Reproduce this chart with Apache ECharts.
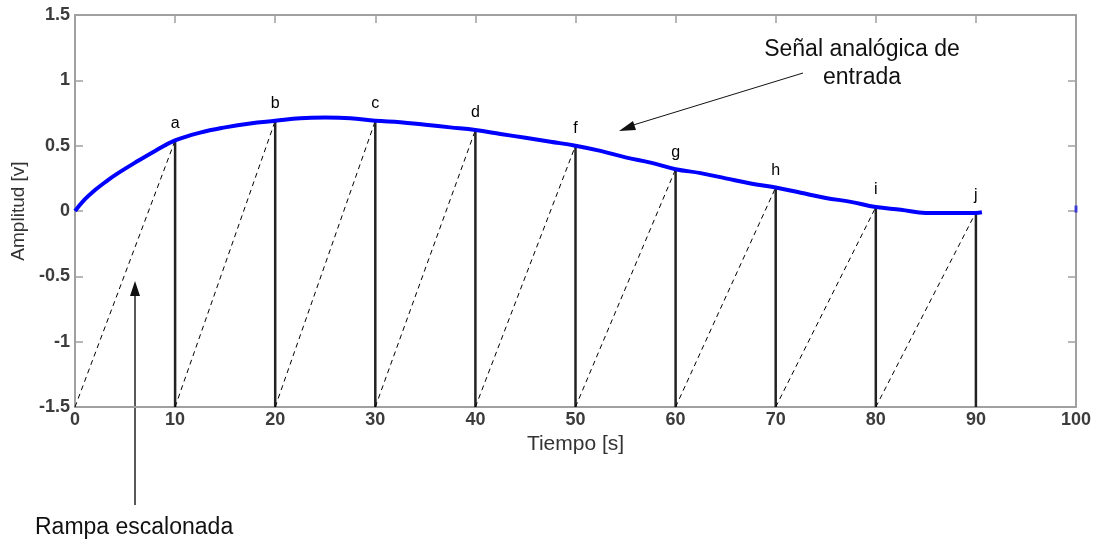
<!DOCTYPE html>
<html>
<head>
<meta charset="utf-8">
<script src="https://cdn.jsdelivr.net/npm/echarts@6/dist/echarts.min.js"></script>
<style>
html,body{margin:0;padding:0;background:#fff;}
#c{width:1100px;height:545px;}
</style>
</head>
<body>
<div id="c"></div>
<script>
// Analog input signal (time s, amplitude V)
var curveT = [0, 1, 2, 3, 4, 6, 8, 10, 12.5, 15, 17.5, 20, 22.5, 25, 27.5, 30, 32.5, 35, 37.5, 40, 42.5, 45, 47.5, 50, 52.5, 55, 57.5, 60, 62.5, 65, 67.5, 70, 72.5, 75, 77.5, 80, 82.5, 85, 87.5, 90, 90.6];
var curveV = [0, 0.09, 0.16, 0.22, 0.275, 0.37, 0.46, 0.54, 0.60, 0.64, 0.67, 0.69, 0.71, 0.715, 0.71, 0.69, 0.68, 0.66, 0.64, 0.62, 0.59, 0.56, 0.53, 0.50, 0.46, 0.41, 0.37, 0.32, 0.29, 0.25, 0.21, 0.18, 0.14, 0.10, 0.07, 0.03, 0.01, -0.015, -0.015, -0.015, -0.01];
// Sample instants and sampled values
var sampleT = [10, 20, 30, 40, 50, 60, 70, 80, 90];
var sampleV = [0.54, 0.69, 0.69, 0.62, 0.50, 0.32, 0.18, 0.03, -0.01];
var sampleLabels = ['a', 'b', 'c', 'd', 'f', 'g', 'h', 'i', 'j'];
var rampStep = 10;   // each ramp starts at previous sample instant
var rampBase = -1.5;
// stray point at right edge
var edgePoint = [[100, 0.015]];
// axis ticks
var xTicks = {min: 0, max: 100, interval: 10};
var yTicks = {min: -1.5, max: 1.5, interval: 0.5};

var curveData = curveT.map(function (t, i) { return [t, curveV[i]]; });
var sampleData = sampleT.map(function (t, i) { return [t, sampleV[i], i]; });

var FONT = '"Liberation Sans", Arial, sans-serif';
var axisGray = '#a0a0a0';

var chart = echarts.init(document.getElementById('c'), null, {renderer: 'canvas'});

function baseAxis(extra) {
  return Object.assign({
    type: 'value',
    axisLine: {show: true, onZero: false, lineStyle: {color: axisGray, width: 2}},
    axisTick: {show: true, inside: true, length: 8, lineStyle: {color: axisGray, width: 1.5}},
    splitLine: {show: false}
  }, extra);
}

var option = {
  animation: false,
  backgroundColor: '#fff',
  grid: {left: 75, top: 15, width: 1001, height: 392, containLabel: false},
  xAxis: [
    baseAxis({
      min: xTicks.min, max: xTicks.max, interval: xTicks.interval, position: 'bottom',
      name: 'Tiempo [s]', nameLocation: 'middle', nameGap: 24,
      nameTextStyle: {fontFamily: FONT, fontSize: 21, color: '#333'},
      axisLabel: {fontFamily: FONT, fontSize: 18, fontWeight: 'bold', color: '#3c3c3c', margin: 4}
    }),
    baseAxis({
      min: xTicks.min, max: xTicks.max, interval: xTicks.interval, position: 'top',
      axisLabel: {show: false}
    })
  ],
  yAxis: [
    baseAxis({
      min: yTicks.min, max: yTicks.max, interval: yTicks.interval, position: 'left',
      name: 'Amplitud [v]', nameLocation: 'middle', nameGap: 44,
      nameTextStyle: {fontFamily: FONT, fontSize: 19, color: '#333'},
      axisLabel: {fontFamily: FONT, fontSize: 18, fontWeight: 'bold', color: '#3c3c3c', margin: 5}
    }),
    baseAxis({
      min: yTicks.min, max: yTicks.max, interval: yTicks.interval, position: 'right',
      axisLabel: {show: false}
    })
  ],
  series: [
    {
      type: 'custom',
      xAxisIndex: 0, yAxisIndex: 0,
      data: sampleData,
      z: 2,
      renderItem: function (params, api) {
        var t = api.value(0), v = api.value(1), idx = api.value(2);
        var top = api.coord([t, v]);
        var bot = api.coord([t, rampBase]);
        var rampStart = api.coord([t - rampStep, rampBase]);
        return {
          type: 'group',
          children: [
            {type: 'line', shape: {x1: rampStart[0], y1: rampStart[1], x2: top[0], y2: top[1]},
             style: {stroke: '#000', lineWidth: 1, lineDash: [5, 4]}},
            {type: 'line', shape: {x1: bot[0], y1: bot[1], x2: top[0], y2: top[1]},
             style: {stroke: '#222', lineWidth: 2.5}},
            {type: 'text', x: top[0], y: top[1] - 17,
             style: {text: sampleLabels[idx], fill: '#000', font: '16px ' + FONT, align: 'center', verticalAlign: 'middle'}}
          ]
        };
      }
    },
    {
      type: 'line',
      xAxisIndex: 0, yAxisIndex: 0,
      data: curveData,
      smooth: 0.4,
      showSymbol: false,
      symbol: 'none',
      z: 3,
      lineStyle: {color: '#0000ff', width: 4}
    },
    {
      type: 'scatter',
      xAxisIndex: 0, yAxisIndex: 0,
      data: edgePoint,
      symbol: 'rect',
      symbolSize: [3, 7],
      clip: false,
      itemStyle: {color: '#2020e0'},
      z: 4
    }
  ],
  graphic: [
    {type: 'text', x: 862, y: 50, style: {text: 'Señal analógica de', font: '23px ' + FONT, fill: '#111', align: 'center', verticalAlign: 'middle'}},
    {type: 'text', x: 862, y: 78, style: {text: 'entrada', font: '23px ' + FONT, fill: '#111', align: 'center', verticalAlign: 'middle'}},
    {type: 'line', shape: {x1: 803, y1: 73, x2: 630, y2: 126}, style: {stroke: '#111', lineWidth: 1}},
    {type: 'polygon', shape: {points: [[619, 131], [633, 121], [636, 130]]}, style: {fill: '#111'}},
    {type: 'text', x: 35, y: 528, style: {text: 'Rampa escalonada', font: '23px ' + FONT, fill: '#111', align: 'left', verticalAlign: 'middle'}},
    {type: 'line', shape: {x1: 135, y1: 505, x2: 135, y2: 292}, style: {stroke: '#222', lineWidth: 1.5}},
    {type: 'polygon', shape: {points: [[135, 281], [130, 296], [140, 296]]}, style: {fill: '#111'}}
  ]
};
chart.setOption(option);
</script>
</body>
</html>
